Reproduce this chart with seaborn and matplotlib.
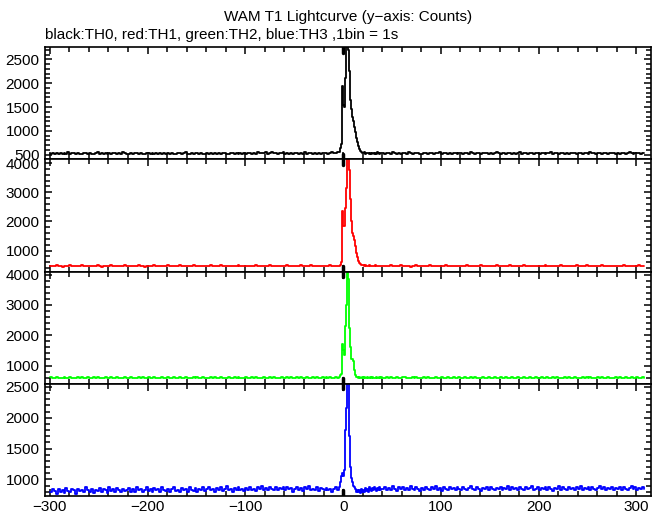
import numpy as np
import seaborn as sns
import matplotlib
matplotlib.use("Agg")
import matplotlib.pyplot as plt
from matplotlib.ticker import MultipleLocator

# time bins (s): coarse 2 s before/after the burst, 1 s around it
t_pre = np.arange(-300, -4, 2)
t_burst = np.arange(-4, 40)
t_post = np.arange(40, 310, 2)

# TH0 (black)
th0_pre = [510, 535, 520, 545, 515, 530, 505, 540, 525, 550, 520, 530, 545, 515, 535, 525, 510, 540, 530, 520,
           545, 525, 515, 535, 550, 520, 530, 510, 540, 525, 535, 515, 545, 530, 520, 540, 525, 555, 530, 515,
           525, 540, 510, 530, 545, 520, 535, 525, 505, 540, 530, 520, 545, 515, 535, 525, 540, 510, 530, 520,
           535, 520, 545, 525, 510, 540, 530, 515, 535, 550, 525, 520, 540, 510, 530, 545, 520, 535, 525, 515,
           540, 525, 530, 515, 545, 520, 535, 510, 530, 540, 525, 515, 535, 545, 520, 530, 510, 540, 525, 535,
           520, 545, 530, 515, 540, 525, 555, 535, 545, 530, 550, 525, 540, 560, 535, 545, 525, 540, 530, 550,
           515, 535, 525, 545, 510, 530, 540, 520, 535, 525, 550, 515, 530, 545, 520, 540, 525, 535, 510, 530,
           530, 545, 520, 540, 555, 535, 545, 560]
th0_burst = [560, 650, 720, 1950, 1550, 1500, 2100, 2750, 2780, 2700, 2250, 1650, 1450, 1300, 1200,
             1080, 980, 850, 760, 680, 620, 580, 560, 545, 535, 550, 525, 540, 530, 545, 520, 540,
             535, 525, 545, 530, 515, 540, 525, 550, 530, 520, 540, 535]
th0_post = [540, 525, 545, 530, 520, 550, 535, 525, 545, 515, 530, 540, 525, 550, 535, 520, 540, 530, 545, 525,
            515, 535, 545, 525, 540, 530, 520, 545, 535, 550, 525, 540, 530, 515, 540, 525, 545, 535, 520, 530,
            545, 525, 535, 540, 520, 550, 530, 525, 545, 535, 515, 540, 530, 545, 520, 535, 525, 540, 550, 530,
            520, 540, 535, 525, 545, 530, 515, 540, 525, 535, 550, 520, 530, 545, 525, 540, 535, 515, 545, 530,
            525, 545, 530, 520, 540, 535, 550, 525, 540, 530, 515, 545, 535, 525, 540, 520, 530, 545, 535, 525,
            540, 530, 520, 545, 535, 525, 550, 530, 540, 520, 535, 545, 525, 530, 540, 520, 535, 545, 530, 525,
            540, 525, 535, 545, 520, 530, 550, 535, 525, 540, 530, 545, 520, 535, 540]

# TH1 (red)
th1_pre = [480, 455, 470, 495, 460, 475, 450, 485, 470, 460, 490, 465, 475, 455, 480, 470, 495, 460, 475, 485,
           455, 470, 480, 460, 490, 475, 450, 470, 485, 465, 475, 495, 460, 470, 480, 455, 475, 465, 490, 470,
           460, 485, 470, 455, 475, 490, 465, 480, 450, 470, 485, 460, 475, 495, 465, 470, 455, 480, 470, 460,
           490, 470, 455, 480, 465, 475, 495, 460, 470, 485, 455, 475, 465, 490, 470, 480, 460, 470, 485, 455,
           475, 465, 490, 470, 480, 455, 470, 495, 465, 475, 460, 485, 470, 455, 480, 470, 490, 465, 475, 460,
           485, 470, 460, 480, 475, 495, 465, 470, 455, 485, 475, 460, 490, 470, 480, 465, 475, 455, 485, 470,
           470, 490, 455, 480, 465, 485, 475, 460, 495, 470, 480, 455, 475, 490, 465, 480, 470, 460, 485, 475,
           460, 480, 470, 490, 465, 475, 485, 470]
th1_burst = [480, 500, 590, 2340, 1830, 1850, 2470, 3150, 4150, 4150, 3760, 2750, 2000, 1600, 1500,
             1350, 1150, 900, 780, 650, 580, 540, 510, 495, 490, 480, 495, 475, 485, 470, 490, 465,
             480, 470, 485, 460, 475, 490, 470, 480, 465, 475, 485, 470]
th1_post = [470, 485, 460, 475, 490, 465, 480, 455, 475, 495, 470, 460, 485, 475, 450, 480, 470, 490, 465, 475,
            485, 460, 475, 470, 495, 465, 480, 455, 470, 485, 475, 460, 490, 470, 480, 465, 475, 455, 485, 470,
            460, 480, 470, 490, 465, 475, 485, 455, 470, 480, 495, 465, 475, 460, 485, 470, 480, 465, 490, 475,
            470, 455, 485, 475, 465, 490, 470, 480, 460, 475, 485, 470, 495, 465, 480, 455, 475, 485, 470, 460,
            480, 470, 465, 490, 475, 460, 485, 470, 480, 455, 475, 495, 465, 470, 485, 475, 460, 480, 470, 490,
            465, 480, 475, 460, 490, 470, 485, 465, 475, 480, 455, 470, 490, 475, 465, 485, 470, 460, 480, 475,
            485, 465, 475, 490, 470, 460, 480, 475, 485, 465, 470, 490, 475, 460, 480]

# TH2 (green)
th2_pre = [610, 585, 600, 625, 590, 605, 580, 615, 600, 590, 620, 595, 605, 585, 610, 600, 625, 590, 605, 615,
           585, 600, 610, 590, 620, 605, 580, 600, 615, 595, 605, 625, 590, 600, 610, 585, 605, 595, 620, 600,
           590, 615, 600, 585, 605, 620, 595, 610, 580, 600, 615, 590, 605, 625, 595, 600, 585, 610, 600, 590,
           620, 600, 585, 610, 595, 605, 625, 590, 600, 615, 585, 605, 595, 620, 600, 610, 590, 600, 615, 585,
           605, 595, 620, 600, 610, 585, 600, 625, 595, 605, 590, 615, 600, 585, 610, 600, 620, 595, 605, 590,
           615, 600, 590, 610, 605, 625, 595, 600, 585, 615, 605, 590, 620, 600, 610, 595, 605, 585, 615, 600,
           600, 620, 590, 610, 585, 605, 615, 595, 625, 600, 590, 610, 605, 585, 615, 600, 620, 595, 605, 610,
           590, 610, 600, 620, 595, 605, 615, 600]
th2_burst = [620, 700, 730, 1700, 1500, 1350, 2300, 3000, 4150, 3850, 2250, 1600, 1200, 1200, 1150,
             850, 680, 630, 610, 600, 615, 590, 605, 620, 595, 610, 585, 600, 615, 590, 605, 620,
             595, 600, 610, 585, 605, 595, 620, 600, 590, 610, 600, 615]
th2_post = [600, 585, 610, 595, 620, 605, 590, 615, 600, 585, 610, 625, 595, 605, 590, 615, 600, 620, 595, 605,
            590, 610, 600, 625, 595, 605, 585, 615, 600, 590, 620, 605, 595, 610, 585, 600, 615, 595, 605, 620,
            600, 590, 615, 605, 585, 610, 600, 625, 595, 605, 590, 615, 600, 585, 620, 605, 595, 610, 600, 590,
            615, 600, 590, 620, 605, 595, 610, 585, 600, 615, 605, 590, 625, 600, 595, 610, 585, 605, 620, 600,
            595, 610, 600, 585, 615, 605, 590, 620, 600, 610, 595, 605, 585, 615, 600, 625, 590, 605, 610, 595,
            605, 590, 620, 600, 610, 595, 615, 585, 605, 600, 620, 590, 610, 600, 595, 615, 605, 585, 600, 620,
            595, 610, 600, 590, 615, 605, 600, 620, 590, 605, 610, 595, 600, 615, 605]

# TH3 (blue)
th3_pre = [790, 840, 810, 770, 850, 800, 830, 780, 860, 810, 790, 840, 820, 770, 850, 810, 830, 790, 870, 820,
           800, 850, 780, 830, 810, 860, 790, 840, 820, 780, 870, 810, 840, 800, 860, 820, 790, 850, 810, 830,
           860, 800, 840, 790, 880, 820, 850, 800, 830, 870, 810, 845, 790, 860, 820, 840, 800, 870, 830, 810,
           850, 800, 840, 870, 810, 830, 790, 860, 820, 850, 800, 880, 830, 810, 860, 790, 840, 820, 870, 810,
           840, 880, 820, 850, 800, 860, 830, 870, 810, 850, 890, 820, 840, 800, 860, 830, 880, 820, 850, 810,
           860, 830, 880, 820, 850, 810, 870, 840, 890, 830, 860, 820, 880, 850, 830, 870, 820, 860, 840, 880,
           820, 870, 840, 860, 800, 850, 880, 830, 860, 810, 870, 840, 890, 820, 850, 830, 870, 810, 860, 840,
           830, 860, 820, 850, 800, 840, 870, 830]
th3_burst = [880, 950, 1050, 1100, 1050, 1150, 1800, 2150, 2560, 2560, 1700, 1200, 1020, 950, 900,
             880, 840, 800, 830, 790, 820, 780, 850, 800, 830, 790, 860, 810, 840, 800, 870, 830,
             850, 810, 860, 820, 880, 840, 810, 860, 830, 870, 820, 850]
th3_post = [840, 880, 820, 860, 830, 890, 850, 810, 870, 840, 880, 830, 860, 820, 890, 850, 830, 870, 840, 810,
            860, 830, 880, 850, 820, 870, 840, 890, 830, 860, 810, 870, 850, 830, 880, 840, 860, 820, 870, 850,
            830, 880, 850, 820, 860, 890, 840, 830, 870, 850, 810, 860, 840, 880, 830, 870, 850, 820, 860, 840,
            880, 830, 860, 850, 890, 820, 870, 840, 860, 830, 880, 850, 820, 870, 840, 860, 890, 830, 850, 870,
            820, 860, 840, 880, 830, 870, 850, 810, 860, 840, 890, 830, 870, 850, 820, 880, 840, 860, 830, 870,
            850, 890, 830, 860, 840, 880, 820, 870, 850, 830, 860, 890, 840, 870, 820, 860, 850, 880, 830, 860,
            840, 870, 830, 880, 850, 820, 860, 890, 840, 870, 830, 860, 850, 880, 840]

panels = [
    ("#000000", th0_pre, th0_burst, th0_post, (405, 2758), 500, 100),
    ("#ff0000", th1_pre, th1_burst, th1_post, (280, 4130), 1000, 200),
    ("#00ff00", th2_pre, th2_burst, th2_post, (400, 4100), 1000, 200),
    ("#0000ff", th3_pre, th3_burst, th3_post, (730, 2550), 500, 100),
]

sns.set_style("ticks")
plt.rcParams["font.family"] = ["Liberation Sans", "DejaVu Sans"]
plt.rcParams["font.size"] = 11

fig, axes = plt.subplots(4, 1, figsize=(6.61, 5.15), dpi=100, sharex=True)
fig.subplots_adjust(left=0.068, right=0.985, bottom=0.0369, top=0.9087, hspace=0)

t_all = np.concatenate([t_pre, t_burst, t_post])
for ax, (col, pre, burst, post, ylim, major, minor) in zip(axes, panels):
    counts = np.concatenate([pre, burst, post])
    sns.lineplot(x=t_all, y=counts, ax=ax, color=col, lw=1.3,
                 drawstyle="steps-post", estimator=None, sort=False)
    ax.set_xlim(-305, 315)
    ax.set_ylim(*ylim)
    ax.yaxis.set_major_locator(MultipleLocator(major))
    ax.yaxis.set_minor_locator(MultipleLocator(minor))
    ax.xaxis.set_major_locator(MultipleLocator(100))
    ax.xaxis.set_minor_locator(MultipleLocator(20))
    ax.tick_params(which="both", direction="in", top=True, right=True,
                   width=1.1, color="k", labelcolor="k", labelsize=11, pad=4)
    ax.tick_params(which="major", length=5)
    ax.tick_params(which="minor", length=3.5)
    ax.set_xlabel("")
    ax.set_ylabel("")
    for sp in ax.spines.values():
        sp.set_linewidth(1.2)
        sp.set_color("k")
    # trigger mark at t = 0
    ax.axvline(0, ymin=0, ymax=0.05, color="k", lw=2.5)
    ax.axvline(0, ymin=0.95, ymax=1, color="k", lw=2.5)

axes[-1].tick_params(axis="x", pad=3)

fig.text(0.5265, 0.967, "WAM T1 Lightcurve (y\u2212axis: Counts)", ha="center", va="center", fontsize=11, color="k")
fig.text(0.068, 0.932, "black:TH0, red:TH1, green:TH2, blue:TH3 ,1bin = 1s", ha="left", va="center", fontsize=11, color="k")

fig.savefig("out.png", dpi=100)
